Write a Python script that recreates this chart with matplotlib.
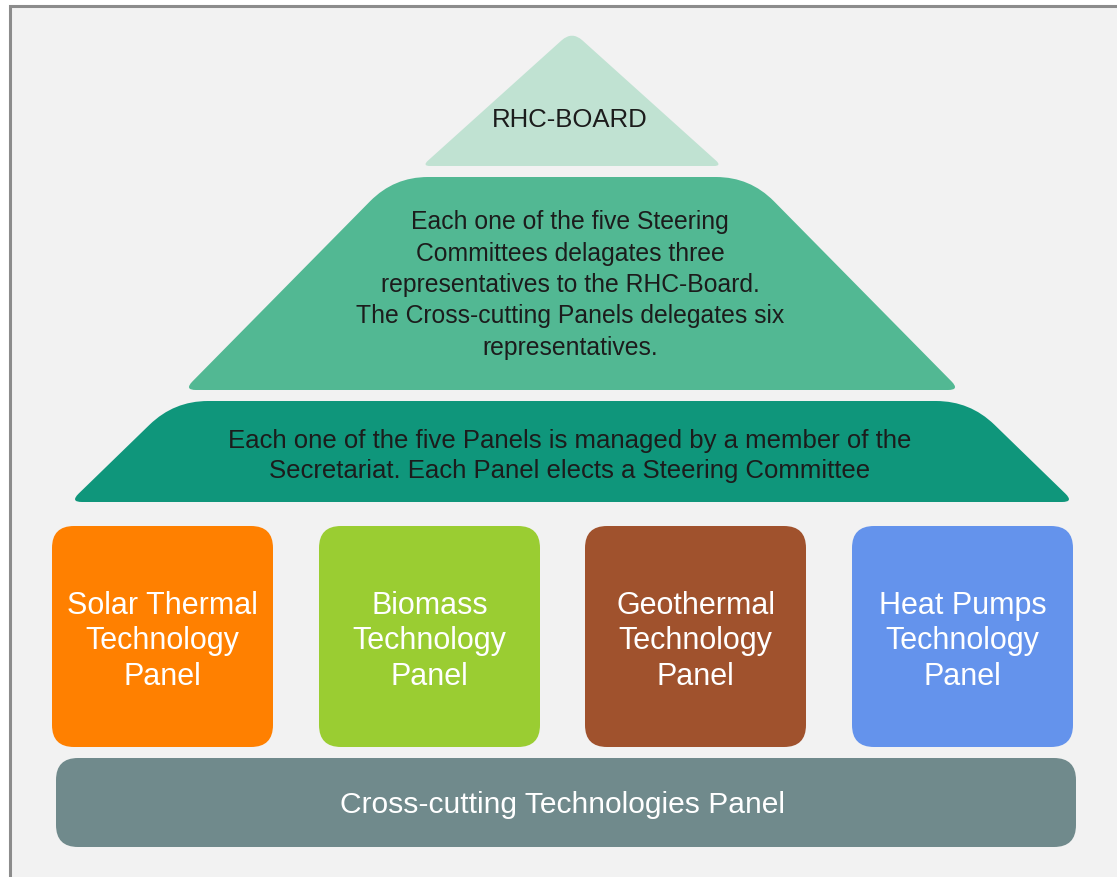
import matplotlib
matplotlib.use("Agg")
import matplotlib.pyplot as plt
import numpy as np
from matplotlib.path import Path
from matplotlib.patches import PathPatch, FancyBboxPatch, Rectangle

plt.rcParams["font.family"] = ["Liberation Sans", "DejaVu Sans"]

# ── content ──────────────────────────────────────────────────────────────
TIER_LABELS = [
    "RHC-BOARD",
    "Each one of the five Steering\nCommittees delagates three\n"
    "representatives to the RHC-Board.\nThe Cross-cutting Panels delegates six\n"
    "representatives.",
    "Each one of the five Panels is managed by a member of the\n"
    "Secretariat. Each Panel elects a Steering Committee",
]
TIER_COLORS = ["#c0e2d2", "#52b893", "#0f967b"]

PANEL_LABELS = [
    "Solar Thermal\nTechnology\nPanel",
    "Biomass\nTechnology\nPanel",
    "Geothermal\nTechnology\nPanel",
    "Heat Pumps\nTechnology\nPanel",
]
PANEL_COLORS = ["#ff8000", "#9acd32", "#a0522d", "#6493ec"]

BASE_LABEL = "Cross-cutting Technologies Panel"
BASE_COLOR = "#708a8c"


def rounded_poly(pts, radii):
    """Closed polygon path with each corner softened by a quadratic curve."""
    pts = np.asarray(pts, float)
    n = len(pts)
    verts, codes = [], []
    for i in range(n):
        p = pts[i]
        a = pts[i - 1]
        b = pts[(i + 1) % n]
        r = radii[i]
        da = (a - p) / np.linalg.norm(a - p)
        db = (b - p) / np.linalg.norm(b - p)
        p1 = p + da * r
        p2 = p + db * r
        verts += [p1, p, p2]
        codes += [Path.MOVETO if i == 0 else Path.LINETO, Path.CURVE3, Path.CURVE3]
    verts.append(verts[0])
    codes.append(Path.CLOSEPOLY)
    return Path(verts, codes)


fig = plt.figure(figsize=(11.17, 8.78), dpi=100)
ax = fig.add_axes([0, 0, 1, 1])
ax.set_xlim(0, 1117)
ax.set_ylim(878, 0)
ax.axis("off")
fig.patch.set_facecolor("white")

# frame
ax.add_patch(Rectangle((10, 7), 1120, 880, facecolor="#f2f2f2",
                       edgecolor="#8c8c8c", lw=2.2))

# pyramid tiers
tiers = [
    ([(572, 32), (722, 167), (422, 167)], [14, 8, 8]),
    ([(394, 178), (750, 178), (960, 391), (184, 391)], [34, 34, 12, 12]),
    ([(174, 402), (970, 402), (1074, 503), (70, 503)], [34, 34, 12, 12]),
]
tier_text_y = [120, 285, 456]
tier_fs = [18.5, 17.8, 18.5]
tier_ls = [1.2, 1.39, 1.3]
for (pts, radii), col, lab, ty, fs, ls in zip(tiers, TIER_COLORS, TIER_LABELS,
                                              tier_text_y, tier_fs, tier_ls):
    ax.add_patch(PathPatch(rounded_poly(pts, radii), facecolor=col,
                           edgecolor="none"))
    ax.text(570, ty, lab, ha="center", va="center", fontsize=fs,
            color="#1c1c1c", linespacing=ls)

# technology panels
box_x = [52, 319, 585, 852]
box_w, box_y, box_h = 221, 527, 221
for x, col, lab in zip(box_x, PANEL_COLORS, PANEL_LABELS):
    ax.add_patch(FancyBboxPatch((x, box_y), box_w, box_h,
                                boxstyle="round,pad=0,rounding_size=22",
                                facecolor=col, edgecolor="none"))
    ax.text(x + box_w / 2, box_y + box_h / 2 + 4, lab, ha="center",
            va="center", fontsize=22, color="white", linespacing=1.24)

# cross-cutting base
ax.add_patch(FancyBboxPatch((56, 759), 1020, 89,
                            boxstyle="round,pad=0,rounding_size=22",
                            facecolor=BASE_COLOR, edgecolor="none"))
ax.text(562, 805, BASE_LABEL, ha="center", va="center", fontsize=21.6,
        color="white")

fig.savefig("out.png", dpi=100, facecolor=fig.get_facecolor())
